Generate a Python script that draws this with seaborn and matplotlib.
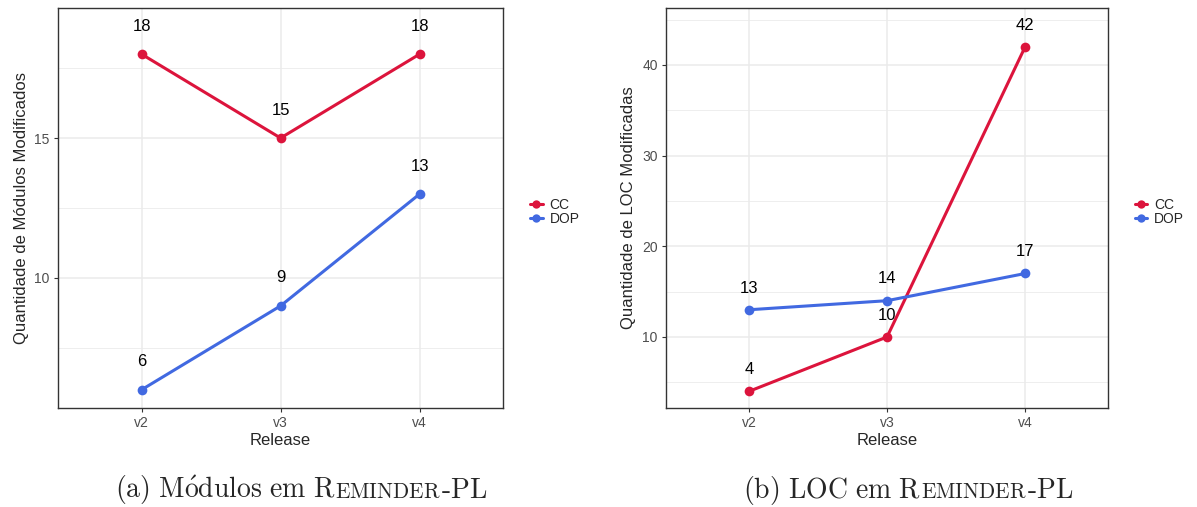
import matplotlib
matplotlib.use("Agg")
import matplotlib.pyplot as plt
from matplotlib.lines import Line2D
from matplotlib.ticker import MultipleLocator
import pandas as pd
import seaborn as sns

releases = ["v2", "v3", "v4"]
grupos = ["CC", "DOP"]
modulos_cc = [18, 15, 18]
modulos_dop = [6, 9, 13]
loc_cc = [4, 10, 42]
loc_dop = [13, 14, 17]

cores = {"CC": "#DC143C", "DOP": "#4169E1"}


def make_df(cc, dop):
    rows = []
    for g, vals in zip(grupos, [cc, dop]):
        for r, v in zip(releases, vals):
            rows.append({"Release": r, "grupo": g, "valor": v})
    return pd.DataFrame(rows)


sns.set_style("white")
plt.rcParams["font.family"] = ["Liberation Sans", "DejaVu Sans"]
plt.rcParams["mathtext.fontset"] = "cm"

fig = plt.figure(figsize=(11.97, 5.07), dpi=100)
ax1 = fig.add_axes([0.0485, 0.1953, 0.3718, 0.789])
ax2 = fig.add_axes([0.5564, 0.1953, 0.3693, 0.789])


def draw_panel(ax, df, ylabel, ylim, major, minor, offset):
    ax.set_axisbelow(True)
    sns.lineplot(data=df, x="Release", y="valor", hue="grupo", palette=cores,
                 marker="o", markersize=7, markeredgewidth=0, linewidth=2.2,
                 sort=False, legend=False, ax=ax)
    for _, row in df.iterrows():
        ax.text(releases.index(row["Release"]), row["valor"] + offset,
                str(row["valor"]), ha="center", va="center", fontsize=12,
                color="black")
    ax.set_xlim(-0.6, 2.6)
    ax.set_ylim(*ylim)
    ax.yaxis.set_major_locator(MultipleLocator(major))
    ax.yaxis.set_minor_locator(MultipleLocator(minor))
    ax.grid(True, which="major", color="#EBEBEB", linewidth=1.1)
    ax.grid(True, which="minor", axis="y", color="#EBEBEB", linewidth=0.6)
    ax.tick_params(axis="both", which="major", direction="out", length=3,
                   width=0.8, color="#333333", labelcolor="#4D4D4D",
                   labelsize=10, pad=3, left=True, bottom=True)
    ax.tick_params(axis="y", which="minor", length=0)
    for s in ax.spines.values():
        s.set_color("#333333")
        s.set_linewidth(1.0)
    ax.set_xlabel("Release", fontsize=12, labelpad=2)
    ax.set_ylabel(ylabel, fontsize=12, labelpad=4)
    handles = [Line2D([0], [0], color=cores[g], marker="o", markersize=6,
                      markeredgewidth=0, linewidth=2.2) for g in grupos]
    ax.legend(handles, grupos, loc="center left", bbox_to_anchor=(1.045, 0.49),
              frameon=False, fontsize=10, handlelength=0.9, handletextpad=0.5,
              labelspacing=0.05, borderpad=0)


draw_panel(ax1, make_df(modulos_cc, modulos_dop),
           "Quantidade de Módulos Modificados", (5.35, 19.65), 5, 2.5, 1.0)
draw_panel(ax2, make_df(loc_cc, loc_dop),
           "Quantidade de LOC Modificadas", (2.17, 46.28), 10, 5, 2.4)


def small_caps_caption(parts, cx, y):
    # parts: list of (mathtext, size); laid out left to right, centred at cx
    renderer = fig.canvas.get_renderer()
    texts = []
    total = 0
    for txt, size in parts:
        t = fig.text(0, y, txt, fontsize=size, va="baseline", ha="left")
        w = t.get_window_extent(renderer).width
        texts.append((t, w))
        total += w
    x = cx - total / 2
    for t, w in texts:
        t.set_x(x / fig.bbox.width)
        x += w


small_caps_caption([(r"$\mathrm{(a)\ M\acute{o}dulos\ em\ R}$", 20),
                    (r"$\mathrm{EMINDER}$", 15.3),
                    (r"$\mathrm{\text{-}PL}$", 20)], 301, 0.018)
small_caps_caption([(r"$\mathrm{(b)\ LOC\ em\ R}$", 20),
                    (r"$\mathrm{EMINDER}$", 15.3),
                    (r"$\mathrm{\text{-}PL}$", 20)], 908, 0.018)

fig.savefig("out.png", dpi=100)
